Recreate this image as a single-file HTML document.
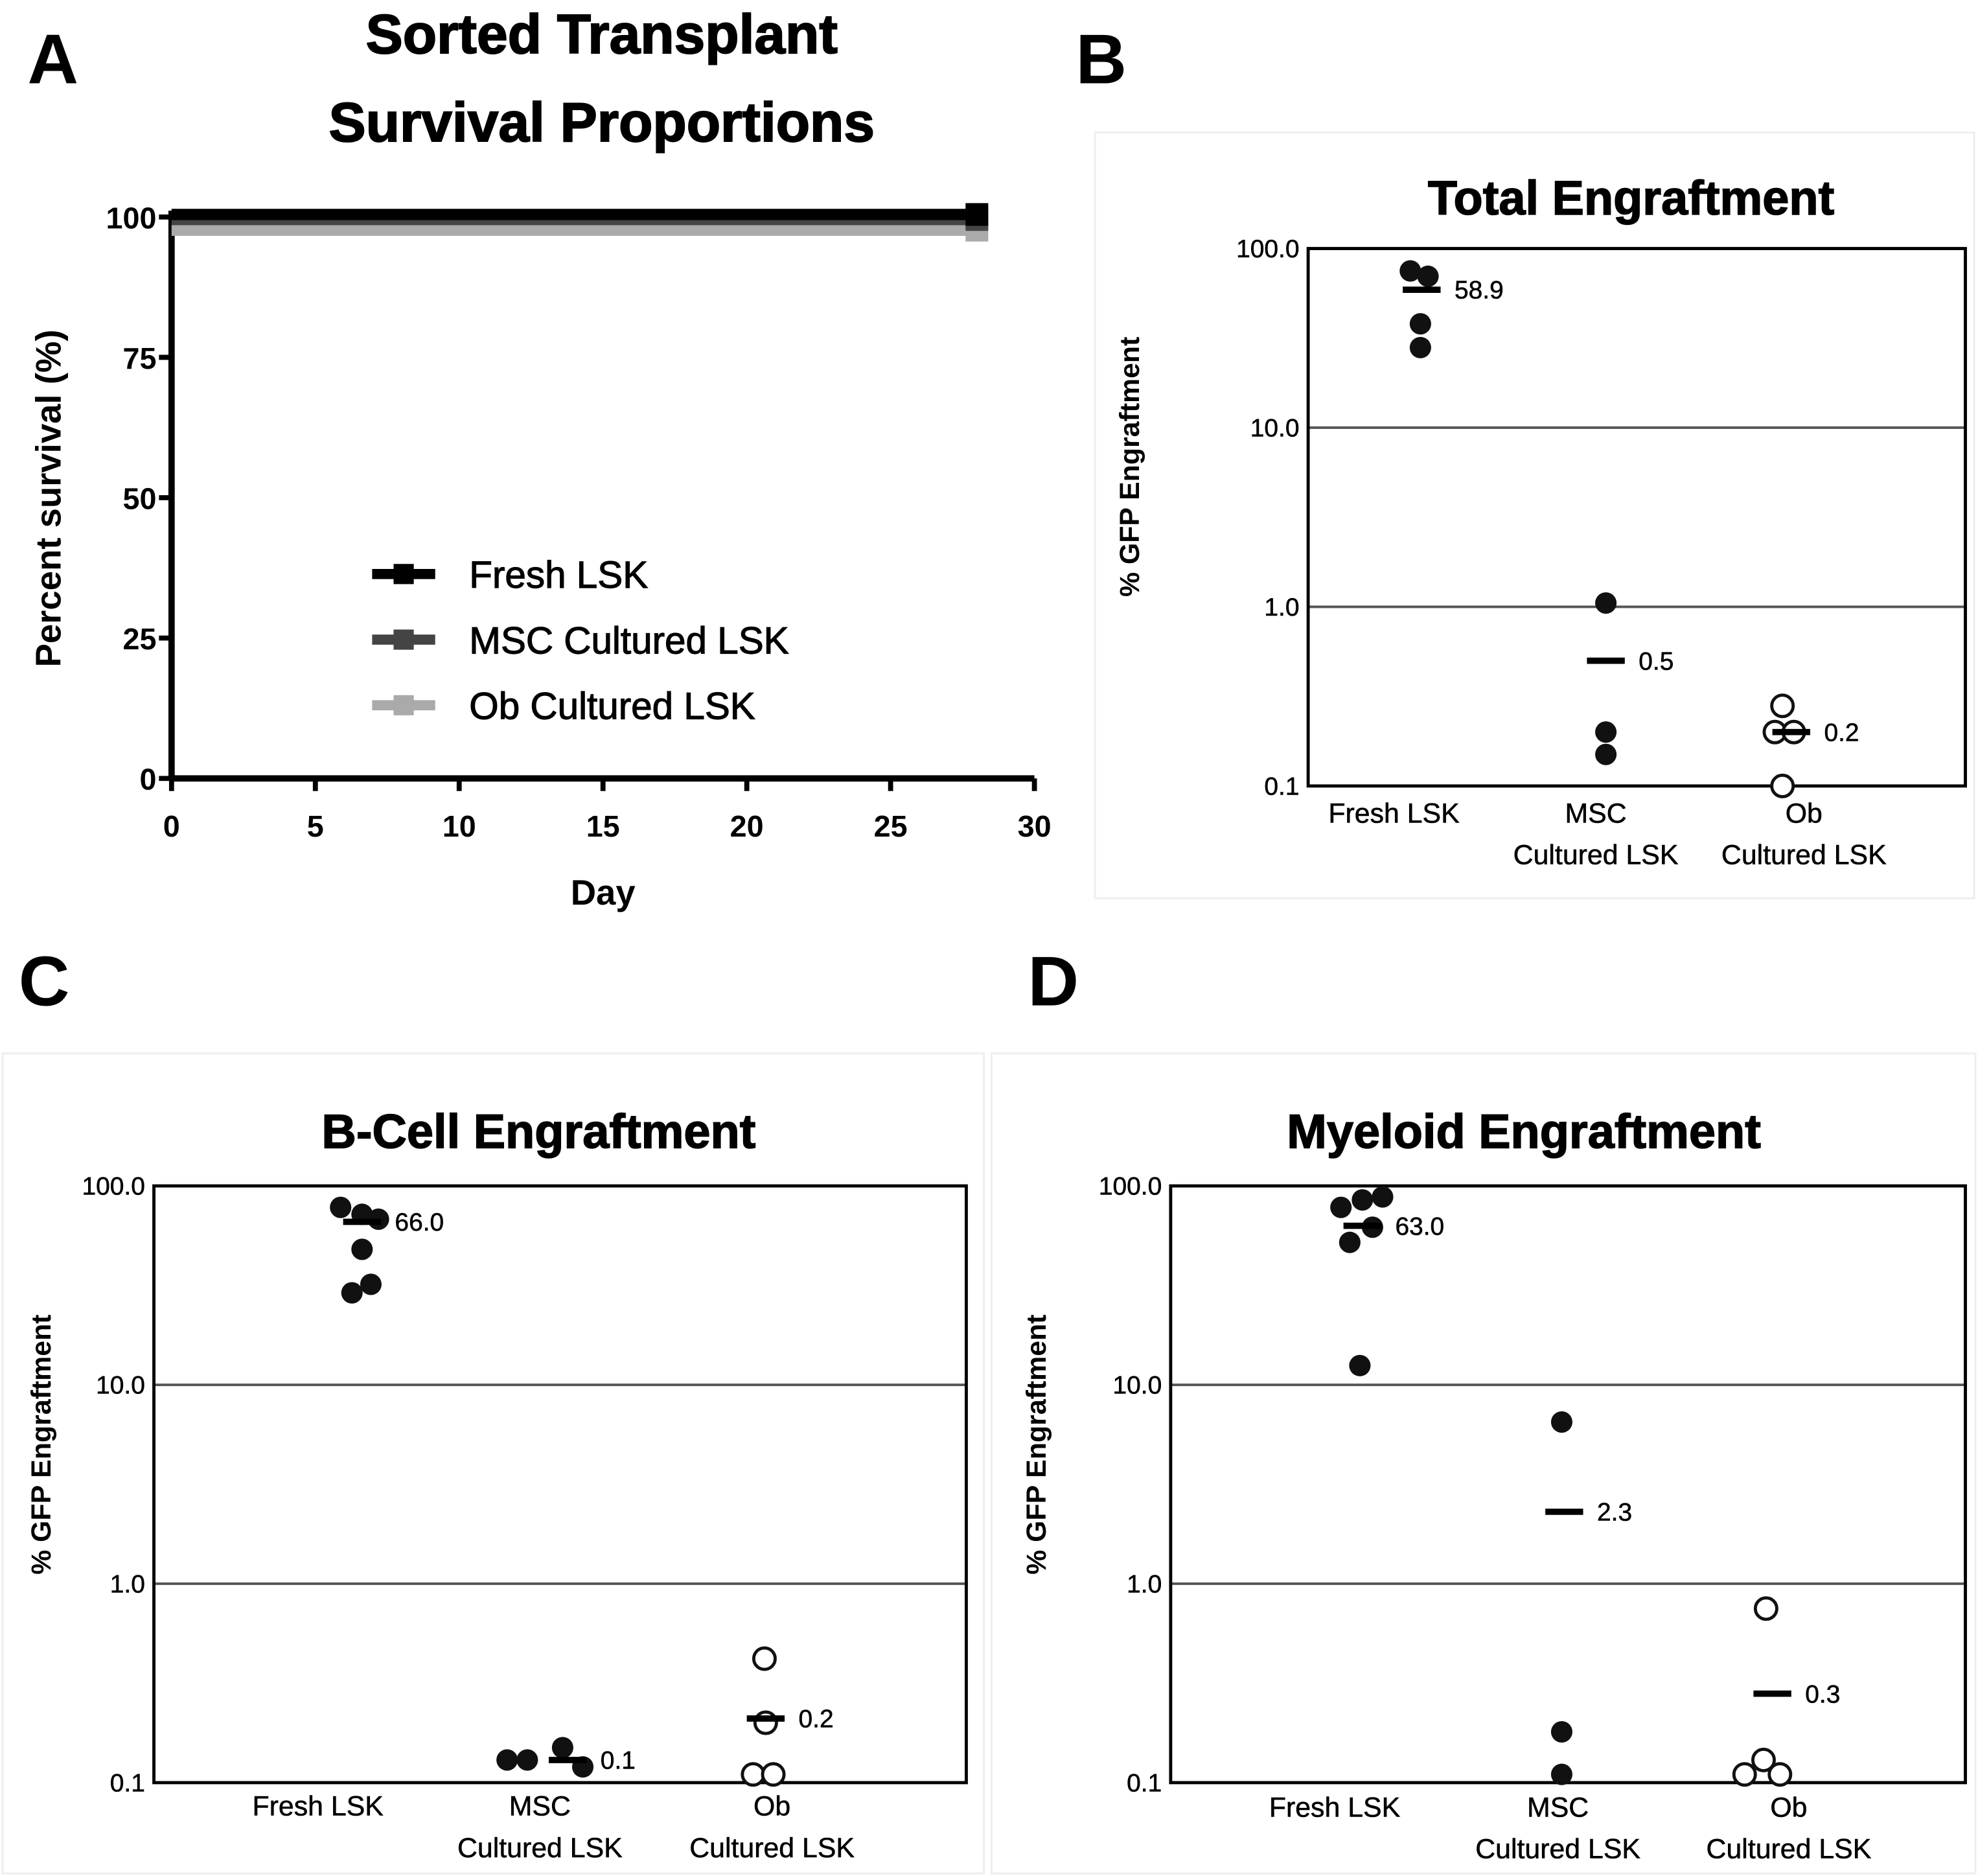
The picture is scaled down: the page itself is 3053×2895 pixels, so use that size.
<!DOCTYPE html>
<html><head><meta charset="utf-8"><style>html,body{margin:0;padding:0;background:#fff}svg{display:block}text{font-family:"Liberation Sans",Arial,sans-serif}</style></head>
<body>
<svg id="fig" xmlns="http://www.w3.org/2000/svg" width="3053" height="2895" viewBox="0 0 1568 1487" preserveAspectRatio="none">
<rect width="1568" height="1487" fill="#fff"/>
<rect x="868" y="105" width="697" height="607" fill="none" stroke="#eee" stroke-width="1.5"/>
<rect x="2" y="835" width="778" height="650" fill="none" stroke="#eee" stroke-width="1.5"/>
<rect x="786" y="835" width="780" height="650" fill="none" stroke="#eee" stroke-width="1.5"/>
<g id="gA"></g>
<g id="gB"></g>
<g id="gC"></g>
<g id="gD"></g>
</svg>
<script>
const survDays=[0,28];
const survFresh=[100,100];
const survMSC=[100,100];
const survOb=[99,99];
const survXTicks=[0,5,10,15,20,25,30];
const survYTicks=[0,25,50,75,100];
const legendLabels=["Fresh LSK","MSC Cultured LSK","Ob Cultured LSK"];

const categories=[["Fresh LSK"],["MSC","Cultured LSK"],["Ob","Cultured LSK"]];
const logTicks=[100,10,1,0.1];
const logTickLabels=["100.0","10.0","1.0","0.1"];
const totFresh=[75,70,38,28], totMSC=[1.05,0.2,0.15], totOb=[0.28,0.2,0.2,0.1];
const totMeans=[58.9,0.5,0.2], totMeanLabels=["58.9","0.5","0.2"];
const bFresh=[78,72,68,48,32,29], bMSC=[0.13,0.15,0.13,0.12], bOb=[0.42,0.2,0.11,0.11];
const bMeans=[66,0.13,0.21], bMeanLabels=["66.0","0.1","0.2"];
const mFresh=[78,85,88,62,52,12.5], mMSC=[6.5,0.18,0.11], mOb=[0.75,0.13,0.11,0.11];
const mMeans=[63,2.3,0.28], mMeanLabels=["63.0","2.3","0.3"];

const NS="http://www.w3.org/2000/svg";
function el(p,tag,at,txt){const e=document.createElementNS(NS,tag);for(const k in at)e.setAttribute(k,at[k]);if(txt!==undefined)e.textContent=txt;p.appendChild(e);return e;}

(function(){
const g=document.getElementById('gA');
const x0=136,x1=820,yb=617,yt=172;
const sx=d=>x0+(d-0)/30*(x1-x0), sy=v=>yb-(v/100)*(yb-yt);
let t=el(g,'text',{x:42,y:66,'font-size':56,'font-weight':'bold','text-anchor':'middle'},'A');

t=el(g,'text',{x:477,y:42,'font-size':44,'font-weight':'bold','text-anchor':'middle',stroke:'#000','stroke-width':1},'Sorted Transplant');

t=el(g,'text',{x:477,y:112,'font-size':44,'font-weight':'bold','text-anchor':'middle',stroke:'#000','stroke-width':1},'Survival Proportions');

survXTicks.forEach(v=>{const ln=el(g,'line',{x1:sx(v),x2:sx(v),y1:yb,y2:yb+10,stroke:'#000','stroke-width':4});

const tx=el(g,'text',{x:sx(v),y:yb+46,'font-size':24,'font-weight':'bold','text-anchor':'middle'},v);
});
survYTicks.forEach(v=>{const ln=el(g,'line',{x1:x0-10,x2:x0,y1:sy(v),y2:sy(v),stroke:'#000','stroke-width':4});

const tx=el(g,'text',{x:x0-12,y:sy(v)+9,'font-size':24,'font-weight':'bold','text-anchor':'end'},v);
});
let ax=el(g,'line',{x1:x0,x2:x1,y1:yb,y2:yb,stroke:'#000','stroke-width':5});

ax=el(g,'line',{x1:x0,x2:x0,y1:yt-5,y2:yb,stroke:'#000','stroke-width':5});

t=el(g,'text',{x:478,y:717,'font-size':28,'font-weight':'bold','text-anchor':'middle'},'Day');

t=el(g,'text',{x:0,y:0,'font-size':28,'font-weight':'bold','text-anchor':'middle',transform:'translate(48,395) rotate(-90)'},'Percent survival (%)');

const series=[[survOb,'#aaa',6],[survMSC,'#444',2],[survFresh,'#000',-2]];
const names=['ob-survival-line','msc-survival-line','fresh-survival-line'];
series.forEach((s,i)=>{const pts=survDays.map((d,j)=>sx(d)+','+(sy(s[0][j])+s[2])).join(' ');
const pl=el(g,'polyline',{points:pts,fill:'none',stroke:s[1],'stroke-width':9});

const last=survDays.length-1;
const r=el(g,'rect',{x:sx(survDays[last])-9,y:sy(s[0][last])+s[2]-9,width:18,height:18,fill:s[1]});
});
const lc=['#000','#444','#aaa'];
legendLabels.forEach((lab,i)=>{const y=455+i*52;
const ln=el(g,'line',{x1:295,x2:345,y1:y,y2:y,stroke:lc[i],'stroke-width':8});

const r=el(g,'rect',{x:312,y:y-8,width:16,height:16,fill:lc[i]});

const tx=el(g,'text',{x:372,y:y+11,'font-size':30,'text-anchor':'start',stroke:'#000','stroke-width':0.6},lab);
});
})();

function dotPlot(id,cfg){
const g=document.getElementById(id);
const {x0,x1,yt,yb,cx,title,titleX,titleY,letter,lx,ly,series,means,meanLabels,ylabX,ylabY,catY,dx}=cfg;
const dec=(yb-yt)/3;
const sy=v=>yb-(Math.log10(v)+1)*dec;
if(letter){const t=el(g,'text',{x:lx,y:ly,'font-size':56,'font-weight':'bold','text-anchor':'middle'},letter);
}
let t=el(g,'text',{x:titleX,y:titleY,'font-size':38,'font-weight':'bold','text-anchor':'middle',stroke:'#000','stroke-width':0.8},title);

logTicks.forEach((v,i)=>{if(v<100&&v>0.1){const ln=el(g,'line',{x1:x0,x2:x1,y1:sy(v),y2:sy(v),stroke:'#555','stroke-width':2});
}
const tx=el(g,'text',{x:x0-7,y:sy(v)+7,'font-size':20,'text-anchor':'end',stroke:'#000','stroke-width':0.3},logTickLabels[i]);
});
const box=el(g,'rect',{x:x0,y:yt,width:x1-x0,height:yb-yt,fill:'none',stroke:'#000','stroke-width':2.5});

t=el(g,'text',{x:0,y:0,'font-size':22,'font-weight':'bold','text-anchor':'middle',transform:`translate(${ylabX},${ylabY}) rotate(-90)`},'% GFP Engraftment');

categories.forEach((c,i)=>{c.forEach((line,k)=>{const tx=el(g,'text',{x:cx[i],y:catY+k*33,'font-size':22,'text-anchor':'middle',stroke:'#000','stroke-width':0.3},line);
});});
series.forEach((s,i)=>{s.vals.forEach((v,j)=>{const c=el(g,'circle',{cx:cx[i]+dx[i][j],cy:sy(v),r:8.5,fill:s.open?'#fff':'#111',stroke:'#111','stroke-width':s.open?2.5:0});
});});
means.forEach((m,i)=>{const mx=cx[i]+cfg.mdx[i];
const ln=el(g,'line',{x1:mx-15,x2:mx+15,y1:sy(m),y2:sy(m),stroke:'#000','stroke-width':5});

const tx=el(g,'text',{x:mx+26,y:sy(m)+7,'font-size':20,'text-anchor':'start',stroke:'#000','stroke-width':0.3},meanLabels[i]);
});
}
dotPlot('gB',{x0:1037,x1:1558,yt:197,yb:623,cx:[1105,1265,1430],title:'Total Engraftment',titleX:1293,titleY:170,letter:'B',lx:873,ly:66,
series:[{vals:totFresh},{vals:totMSC},{vals:totOb,open:true}],means:totMeans,meanLabels:totMeanLabels,ylabX:903,ylabY:370,catY:652,
dx:[[13,27,21,21],[8,8,8],[-17,-23,-8,-17]],mdx:[22,8,-10]});
dotPlot('gC',{x0:122,x1:766,yt:940,yb:1413,cx:[252,428,612],title:'B-Cell Engraftment',titleX:427,titleY:910,letter:'C',lx:35,ly:797,
series:[{vals:bFresh},{vals:bMSC},{vals:bOb,open:true}],means:bMeans,meanLabels:bMeanLabels,ylabX:40,ylabY:1145,catY:1439,
dx:[[18,35,48,35,42,27],[-26,18,-10,34],[-6,-5,-15,1]],mdx:[35,22,-5]});
dotPlot('gD',{x0:928,x1:1558,yt:940,yb:1413,cx:[1058,1235,1418],title:'Myeloid Engraftment',titleX:1208,titleY:910,letter:'D',lx:835,ly:797,
series:[{vals:mFresh},{vals:mMSC},{vals:mOb,open:true}],means:mMeans,meanLabels:mMeanLabels,ylabX:829,ylabY:1145,catY:1440,
dx:[[5,22,38,30,12,20],[3,3,3],[-18,-20,-35,-7]],mdx:[22,5,-13]});
</script>
</body></html>
